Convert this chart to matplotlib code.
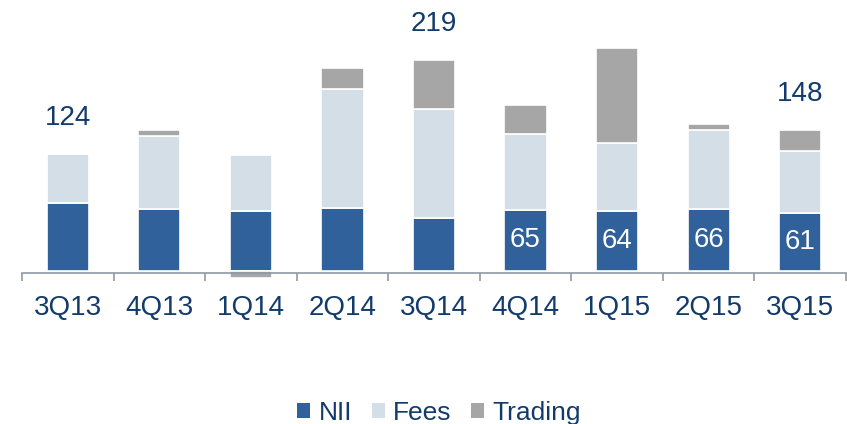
import matplotlib
matplotlib.use("Agg")
import matplotlib.pyplot as plt
from matplotlib import font_manager
import numpy as np

quarters = ["3Q13", "4Q13", "1Q14", "2Q14", "3Q14", "4Q14", "1Q15", "2Q15", "3Q15"]
nii = [72, 66, 64, 67, 56, 65, 64, 66, 61]
fees = [52, 77, 59, 126, 116, 80, 72, 84, 66]
trading = [0, 7, -8, 23, 52, 31, 101, 6, 23]
total_labels = {0: "124", 4: "219", 8: "148"}
nii_labels = {5: "65", 6: "64", 7: "66", 8: "61"}

C_NII = "#30619A"
C_FEES = "#D4DEE7"
C_TRD = "#A6A6A6"
C_TEXT = "#123B6B"
C_AXIS = "#8E99A5"

names = {f.name for f in font_manager.fontManager.ttflist}
fam = "Liberation Sans Narrow" if "Liberation Sans Narrow" in names else "Liberation Sans"
plt.rcParams["font.family"] = [fam, "DejaVu Sans"]

W, H = 847, 424
fig = plt.figure(figsize=(W / 100, H / 100), dpi=100)
# axes: x 22..846 px, y 0..300 px from top
ax = fig.add_axes([22 / W, (H - 300) / H, (846 - 22) / W, 300 / H])

scale = 0.94  # px per unit
base_px = 270.7
ax.set_ylim(-(300 - base_px) / scale, base_px / scale)
ax.set_xlim(-0.5, len(quarters) - 0.5)

x = np.arange(len(quarters))
nii_a = np.array(nii)
fees_a = np.array(fees)
trd_a = np.array(trading)
trd_bottom = np.where(trd_a >= 0, nii_a + fees_a, 0)

kw = dict(width=0.46, edgecolor="white", linewidth=1.2, zorder=2)
ax.bar(x, nii_a, color=C_NII, label="NII", **kw)
ax.bar(x, fees_a, bottom=nii_a, color=C_FEES, label="Fees", **kw)
ax.bar(x, trd_a, bottom=trd_bottom, color=C_TRD, label="Trading", **kw)

# axis line and separators
for s in ["top", "right", "left"]:
    ax.spines[s].set_visible(False)
ax.spines["bottom"].set_position(("data", -2.1))
ax.spines["bottom"].set_color(C_AXIS)
ax.spines["bottom"].set_linewidth(1.2)
ax.spines["bottom"].set_zorder(3)
ax.set_yticks([])
ax.set_xticks(x)
ax.set_xticklabels(quarters, fontsize=20, color=C_TEXT)
ax.tick_params(axis="x", which="major", length=0, pad=16)
ax.set_xticks(np.arange(-0.5, len(quarters)), minor=True)
ax.tick_params(axis="x", which="minor", length=6, width=1.2, color=C_AXIS, direction="out")

tops = nii_a + fees_a + np.clip(trd_a, 0, None)
for i, txt in total_labels.items():
    ax.annotate(txt, (x[i], tops[i]), xytext=(0, 26), textcoords="offset points",
                ha="center", va="center", fontsize=20, color=C_TEXT)

for i, txt in nii_labels.items():
    ax.text(x[i], nii_a[i] / 2, txt, ha="center", va="center", fontsize=20, color="white",
            zorder=4, bbox=dict(boxstyle="round,pad=0.1,rounding_size=0.2", fc=C_NII, ec="none"))

handles, labels = ax.get_legend_handles_labels()
leg = fig.legend(handles, labels, loc="center", bbox_to_anchor=(439 / W, 11 / H), ncol=3,
                 frameon=False, fontsize=19, handlelength=0.5, handleheight=0.5,
                 handletextpad=0.3, columnspacing=0.75, labelcolor=C_TEXT)
for h in leg.legend_handles:
    h.set_edgecolor("none")

fig.savefig("out.png", dpi=100)
